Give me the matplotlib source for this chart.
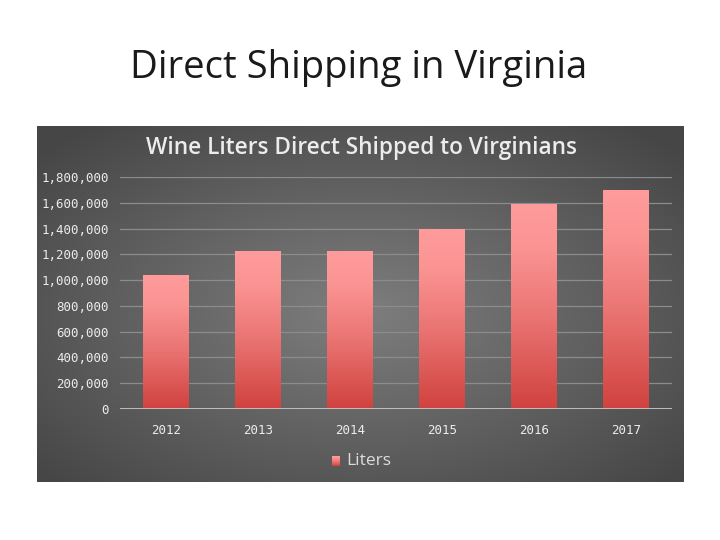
import numpy as np
import matplotlib
matplotlib.use("Agg")
import matplotlib.pyplot as plt
from matplotlib.colors import LinearSegmentedColormap

years = ["2012", "2013", "2014", "2015", "2016", "2017"]
liters = [1033000, 1225000, 1225000, 1390000, 1590000, 1698000]
yticks = [0, 200000, 400000, 600000, 800000, 1000000, 1200000, 1400000, 1600000, 1800000]
ytick_labels = ["0", "200,000", "400,000", "600,000", "800,000", "1,000,000",
                "1,200,000", "1,400,000", "1,600,000", "1,800,000"]

W, H = 720, 540
fig = plt.figure(figsize=(7.2, 5.4), dpi=100)
fig.patch.set_facecolor("white")

def fx(px):
    return px / W

def fy(py):
    return 1 - py / H

# Slide title
fig.text(fx(359), fy(68), "Direct Shipping in Virginia", ha="center", va="center",
         fontsize=27.5, color="#1a1a1a", family="Open Sans")

# Background panel with radial gradient
x0, x1, y0, y1 = 37, 684, 126, 482
bg = fig.add_axes([fx(x0), fy(y1), fx(x1 - x0), (y1 - y0) / H])
gx = np.linspace(-1, 1, 400)
gy = np.linspace(-1, 1, 300)
GX, GY = np.meshgrid(gx, gy)
R = np.sqrt(((GX + 0.0) / 1.0) ** 2 + ((GY - 0.05) / 1.0) ** 2)
R = np.clip(R / 1.35, 0, 1)
light = np.array([0x7e, 0x7e, 0x7e]) / 255
dark = np.array([0x46, 0x46, 0x46]) / 255
img = light[None, None, :] * (1 - R[..., None]) + dark[None, None, :] * R[..., None]
bg.imshow(img, aspect="auto", extent=[0, 1, 0, 1])
bg.set_axis_off()

# Plot area
ax = fig.add_axes([fx(120), fy(409), fx(672 - 120), (409 - 177) / H])
ax.set_facecolor("none")
ax.patch.set_alpha(0)
x = np.arange(len(years))

for yv in yticks[1:]:
    ax.axhline(yv, color="#8c8c8c", lw=0.9, zorder=1)
ax.axhline(0, color="#c8c8c8", lw=2, zorder=4)

cmap = LinearSegmentedColormap.from_list(
    "bar", [(0.0, "#d0423f"), (0.45, "#ea7573"), (0.8, "#fb9594"), (1.0, "#ff9b9b")])
grad = np.linspace(0, 1, 256).reshape(-1, 1)
w = 0.49
bars = ax.bar(x, liters, width=w, color="none", zorder=2)
for b in bars:
    bx, by = b.get_x(), b.get_y()
    bw, bh = b.get_width(), b.get_height()
    ax.imshow(grad, cmap=cmap, origin="lower", aspect="auto",
              extent=[bx, bx + bw, by, by + bh], zorder=3)
ax.set_xlim(-0.5, len(years) - 0.5)
ax.set_ylim(0, 1800000)

for s in ax.spines.values():
    s.set_visible(False)
ax.set_yticks(yticks)
ax.set_yticklabels(ytick_labels)
ax.set_xticks(x)
ax.set_xticklabels(years)
ax.tick_params(axis="both", length=0, colors="#ececec", labelsize=9)
ax.tick_params(axis="y", pad=8)
ax.tick_params(axis="x", pad=11)
for lab in ax.get_xticklabels() + ax.get_yticklabels():
    lab.set_family("DejaVu Sans Mono")

# Chart title
fig.text(fx(361), fy(148), "Wine Liters Direct Shipped to Virginians", ha="center",
         va="center", fontsize=16.3, fontweight="semibold", color="#ececec",
         family="Open Sans")

# Legend
lax = fig.add_axes([0, 0, 1, 1])
lax.patch.set_alpha(0)
lax.set_axis_off()
lax.imshow(grad, cmap=cmap, origin="lower", aspect="auto",
           extent=[332, 340, 466, 456], zorder=5)
lax.set_xlim(0, W)
lax.set_ylim(H, 0)
lax.text(346, 461, "Liters", ha="left", va="center", fontsize=12.5, color="#dcdcdc",
         family="Open Sans")

fig.savefig("out.png", dpi=100, facecolor="white")
